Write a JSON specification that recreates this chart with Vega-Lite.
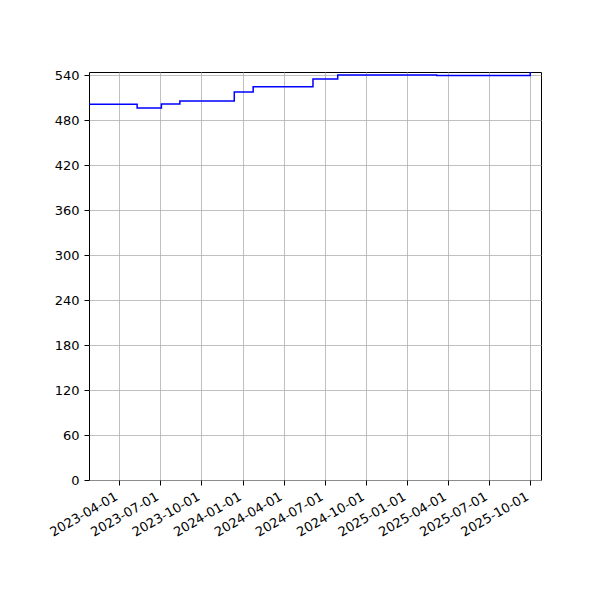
{
  "$schema": "https://vega.github.io/schema/vega-lite/v6.json",
  "autosize": {"type": "none"},
  "padding": {"left": 89, "top": 72, "right": 59, "bottom": 120},
  "width": 452,
  "height": 408,
  "background": "white",
  "config": {
    "font": "DejaVu Sans",
    "view": {"stroke": "black", "strokeWidth": 1},
    "axis": {
      "labelFont": "DejaVu Sans",
      "labelFontSize": 13,
      "labelColor": "black",
      "tickColor": "black",
      "tickSize": 5,
      "tickWidth": 1,
      "domain": false,
      "gridColor": "#b0b0b0",
      "gridWidth": 0.8,
      "gridOpacity": 1,
      "title": null,
      "labelPadding": 5
    }
  },
  "data": {
    "values": [
      {"date": "2023-01-24", "value": 501.0},
      {"date": "2023-05-11", "value": 496.0},
      {"date": "2023-07-04", "value": 501.3},
      {"date": "2023-08-14", "value": 505.5},
      {"date": "2023-12-13", "value": 517.3},
      {"date": "2024-01-24", "value": 524.5},
      {"date": "2024-06-05", "value": 534.7},
      {"date": "2024-07-30", "value": 540.0},
      {"date": "2025-03-07", "value": 539.3},
      {"date": "2025-10-01", "value": 560.0}
    ]
  },
  "mark": {"type": "line", "color": "#0000ff", "strokeWidth": 1.5, "interpolate": "step-after", "clip": true},
  "encoding": {
    "x": {
      "field": "date",
      "type": "temporal",
      "scale": {
        "type": "utc",
        "domain": [
          {"year": 2023, "month": 1, "date": 24, "utc": true},
          {"year": 2025, "month": 10, "date": 25, "utc": true}
        ]
      },
      "axis": {
        "values": [
          {"year": 2023, "month": 4, "date": 1, "utc": true},
          {"year": 2023, "month": 7, "date": 1, "utc": true},
          {"year": 2023, "month": 10, "date": 1, "utc": true},
          {"year": 2024, "month": 1, "date": 1, "utc": true},
          {"year": 2024, "month": 4, "date": 1, "utc": true},
          {"year": 2024, "month": 7, "date": 1, "utc": true},
          {"year": 2024, "month": 10, "date": 1, "utc": true},
          {"year": 2025, "month": 1, "date": 1, "utc": true},
          {"year": 2025, "month": 4, "date": 1, "utc": true},
          {"year": 2025, "month": 7, "date": 1, "utc": true},
          {"year": 2025, "month": 10, "date": 1, "utc": true}
        ],
        "labelExpr": "utcFormat(datum.value, '%Y-%m-%d')",
        "labelAngle": -30,
        "labelAlign": "right",
        "labelBaseline": "top",
        "labelOffset": -6,
        "labelOverlap": false,
        "labelFlush": false
      }
    },
    "y": {
      "field": "value",
      "type": "quantitative",
      "scale": {"domain": [0, 544], "nice": false, "zero": false},
      "axis": {
        "values": [0, 60, 120, 180, 240, 300, 360, 420, 480, 540],
        "labelOverlap": false,
        "labelFlush": false
      }
    }
  }
}
